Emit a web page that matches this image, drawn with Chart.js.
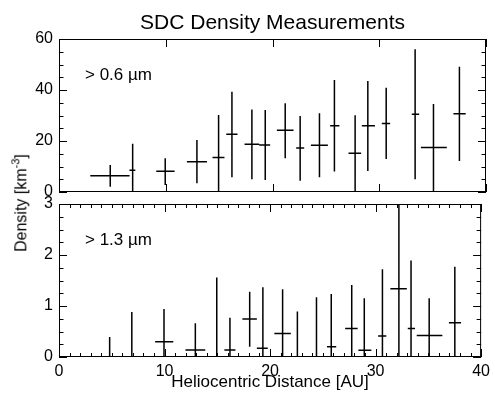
<!DOCTYPE html>
<html>
<head>
<meta charset="utf-8">
<script src="https://cdn.jsdelivr.net/npm/chart.js@4.4.1/dist/chart.umd.min.js"></script>
<style>
  html, body { margin: 0; padding: 0; background: #fff; }
  #wrap { position: relative; width: 495px; height: 399px; overflow: hidden; font-family: "Liberation Sans", Arial, Helvetica, sans-serif; }
  canvas { position: absolute; left: 0; top: 0; }
  .note { position: absolute; font-size: 17px; line-height: 17px; color: #000; white-space: nowrap; }
  #ylab { position: absolute; left: 19px; top: 203px; transform: translate(-50%, -50%) rotate(-90deg); font-size: 16px; line-height: 16px; white-space: nowrap; color: #000; }
  #ylab sup { font-size: 11px; position: relative; top: -1px; }
</style>
</head>
<body>
<div id="wrap">
  <canvas id="c1" width="495" height="399"></canvas>
  <canvas id="c2" width="495" height="399"></canvas>
  <div class="note" style="left:85px; top:66px;">&gt; 0.6 µm</div>
  <div class="note" style="left:85px; top:231px;">&gt; 1.3 µm</div>
  <div id="ylab">Density [km<sup>-3</sup>]</div>
</div>
<script>
// ---- Data ----
const titleText = "SDC Density Measurements";
const xTitle = "Heliocentric Distance [AU]";
const xTickLabels = ["0", "10", "20", "30", "40"];
const topTickLabels = ["0", "20", "40", "60"];
const botTickLabels = ["0", "1", "2", "3"];

// Upper panel: > 0.6 um
const topX   = [4.8, 6.9, 9.95, 12.92, 14.95, 16.2, 18.07, 19.32, 21.19, 22.59, 24.4, 25.8, 27.74, 28.93, 30.65, 33.36, 35.08, 37.51];
const topXLo = [2.93, 6.6, 9.11, 11.98, 14.38, 15.67, 17.38, 18.75, 20.41, 22.22, 23.6, 25.4, 27.12, 28.37, 30.24, 33.05, 33.9, 36.95];
const topXHi = [6.61, 7.15, 10.83, 13.86, 15.5, 16.72, 18.75, 19.78, 21.97, 22.97, 25.19, 26.27, 28.3, 29.6, 31.02, 33.74, 36.33, 38.1];
const topY   = [6.4, 8.5, 8.1, 11.9, 13.5, 22.6, 18.7, 18.4, 24.2, 17.3, 18.3, 26.0, 15.2, 26.0, 26.9, 30.5, 17.5, 30.7];
const topYLo = [2.1, 0, 2.7, 3.4, 0, 5.8, 5.0, 4.7, 13.2, 4.4, 5.8, 8.0, 0, 8.2, 12.9, 5.0, 0, 12.2];
const topYHi = [10.6, 18.9, 13.2, 20.4, 30.2, 39.3, 32.4, 32.2, 34.8, 29.8, 30.9, 43.9, 30.1, 43.5, 40.9, 56.0, 34.5, 49.1];

// Lower panel: > 1.3 um
const botX   = [4.8, 6.9, 9.95, 12.92, 14.95, 16.2, 18.07, 19.32, 21.19, 22.59, 24.4, 25.8, 27.74, 28.93, 30.65, 32.21, 33.36, 35.08, 37.51];
const botXLo = [2.93, 6.6, 9.11, 11.98, 14.38, 15.67, 17.38, 18.75, 20.41, 22.22, 23.6, 25.4, 27.12, 28.37, 30.24, 31.4, 33.05, 33.9, 36.95];
const botXHi = [6.61, 7.15, 10.83, 13.86, 15.5, 16.72, 18.75, 19.78, 21.97, 22.97, 25.19, 26.27, 28.3, 29.6, 31.02, 32.96, 33.74, 36.33, 38.1];
const botY   = [0, 0, 0.30, 0.137, 0, 0.137, 0.745, 0.17, 0.46, 0, 0, 0.20, 0.56, 0.13, 0.41, 1.34, 0.56, 0.42, 0.67];
const botYLo = [0, 0, 0, 0, 0, 0, 0.20, 0, 0, 0, 0, 0, 0, 0, 0, 0, 0, 0, 0];
const botYHi = [0.39, 0.88, 0.94, 0.66, 1.56, 0.77, 1.28, 1.37, 1.33, 0.89, 1.17, 1.235, 1.41, 1.15, 1.72, 3.0, 1.89, 1.15, 1.77];

// ---- Helpers building line segments (separated by gaps) ----
function vSegs(x, lo, hi) {
  const out = [];
  x.forEach((v, i) => { out.push({x: v, y: lo[i]}, {x: v, y: hi[i]}, {x: v, y: null}); });
  return out;
}
function hSegs(lo, hi, y) {
  const out = [];
  y.forEach((v, i) => { out.push({x: lo[i], y: v}, {x: hi[i], y: v}, {x: hi[i], y: null}); });
  return out;
}
function isMajor(v, step) { return Math.abs(v - Math.round(v / step) * step) < 1e-6; }

const FONT = "'Liberation Sans', Arial, Helvetica, sans-serif";

// Box + inward tick marks, drawn at the library's own scale tick positions
const frameTicks = {
  id: 'frameTicks',
  afterDatasetsDraw(chart, args, opts) {
    const {ctx, chartArea: a, scales} = chart;
    ctx.save();
    ctx.strokeStyle = '#000';
    ctx.lineWidth = 1;
    ctx.strokeRect(a.left + 0.5, a.top + 0.5, a.right - a.left - 1, a.bottom - a.top - 1);
    ctx.beginPath();
    scales.x.ticks.forEach(t => {
      const px = Math.round(scales.x.getPixelForValue(t.value)) + 0.5;
      const len = isMajor(t.value, opts.xMajor) ? 8 : 4;
      ctx.moveTo(px, a.bottom); ctx.lineTo(px, a.bottom - len);
      ctx.moveTo(px, a.top); ctx.lineTo(px, a.top + len);
    });
    scales.y.ticks.forEach(t => {
      const py = Math.round(scales.y.getPixelForValue(t.value)) + 0.5;
      const len = isMajor(t.value, opts.yMajor) ? 8 : 4.5;
      ctx.moveTo(a.left, py); ctx.lineTo(a.left + len, py);
      ctx.moveTo(a.right, py); ctx.lineTo(a.right - len, py);
    });
    ctx.stroke();
    ctx.restore();
  }
};

function errDatasets(vs, hs) {
  const base = { showLine: true, borderColor: '#000', borderWidth: 1.5, pointRadius: 0, spanGaps: false, fill: false };
  return [
    Object.assign({ label: 'err', data: vs }, base),
    Object.assign({ label: 'val', data: hs }, base)
  ];
}

Chart.defaults.font.family = FONT;
Chart.defaults.color = '#000';

const noGrid = { display: false, drawTicks: false };

// Upper panel
new Chart(document.getElementById('c1'), {
  type: 'scatter',
  data: { datasets: errDatasets(vSegs(topX, topYLo, topYHi), hSegs(topXLo, topXHi, topY)) },
  options: {
    responsive: false, animation: false, devicePixelRatio: 1,
    layout: { padding: { left: 0, right: 9, top: 11, bottom: 207 } },
    plugins: {
      legend: { display: false }, tooltip: { enabled: false },
      title: { display: true, fullSize: false, text: titleText, color: '#000', font: { size: 21, weight: 'normal', family: FONT, lineHeight: 1.2 }, padding: { top: 0, bottom: 2.8 } },
      frameTicks: { xMajor: 10, yMajor: 20 }
    },
    scales: {
      x: {
        type: 'linear', min: 0, max: 40,
        ticks: { display: false, stepSize: 10 },
        grid: noGrid, border: { display: false },
        afterFit(s) { s.height = 0; }
      },
      y: {
        type: 'linear', min: 0, max: 60,
        ticks: { stepSize: 5, autoSkip: false, padding: 6, font: { size: 16 },
          callback: v => isMajor(v, 20) ? topTickLabels[Math.round(v / 20)] : '' },
        grid: noGrid, border: { display: false },
        afterFit(s) { s.width = 59; }
      }
    }
  },
  plugins: [frameTicks]
});

// Lower panel
new Chart(document.getElementById('c2'), {
  type: 'scatter',
  data: { datasets: errDatasets(vSegs(botX, botYLo, botYHi), hSegs(botXLo, botXHi, botY)) },
  options: {
    responsive: false, animation: false, devicePixelRatio: 1,
    layout: { padding: { left: 0, right: 9, top: 204, bottom: 0 } },
    plugins: {
      legend: { display: false }, tooltip: { enabled: false },
      frameTicks: { xMajor: 10, yMajor: 1 }
    },
    scales: {
      x: {
        type: 'linear', min: 0, max: 40,
        ticks: { stepSize: 1, autoSkip: false, maxRotation: 0, padding: 5, font: { size: 16 },
          callback: v => isMajor(v, 10) ? xTickLabels[Math.round(v / 10)] : '' },
        title: { display: true, text: xTitle, color: '#000', font: { size: 17, family: FONT, lineHeight: 1.2 }, padding: { top: 0, bottom: 6 } },
        grid: noGrid, border: { display: false },
        afterFit(s) { s.height = 42; }
      },
      y: {
        type: 'linear', min: 0, max: 3,
        ticks: { stepSize: 0.25, autoSkip: false, padding: 6, font: { size: 16 },
          callback: v => isMajor(v, 1) ? botTickLabels[Math.round(v)] : '' },
        grid: noGrid, border: { display: false },
        afterFit(s) { s.width = 59; }
      }
    }
  },
  plugins: [frameTicks]
});
</script>
</body>
</html>
